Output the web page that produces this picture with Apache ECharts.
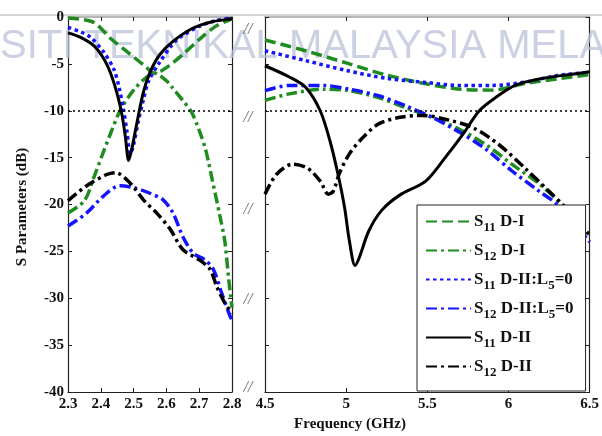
<!DOCTYPE html>
<html>
<head>
<meta charset="utf-8">
<script src="https://cdn.jsdelivr.net/npm/echarts@6/dist/echarts.min.js"></script>
<style>
  html, body { margin: 0; padding: 0; background: #fff; }
  #chart { width: 602px; height: 436px; }
</style>
</head>
<body>
<div id="chart"></div>
<script>
// ---------- 2.3 – 2.8 GHz band ----------
const lowS11D1F  = [2.30, 2.35, 2.38, 2.40, 2.43, 2.48, 2.53, 2.565, 2.60, 2.65, 2.70, 2.75, 2.80];
const lowS11D1   = [-0.1, -0.3, -0.6, -1.2, -2.3, -3.7, -5.1, -6.0, -5.4, -4.0, -2.4, -1.0, -0.2];

const lowS12D1F  = [2.30, 2.35, 2.38, 2.41, 2.43, 2.46, 2.50, 2.54, 2.565, 2.60, 2.615, 2.65, 2.676, 2.70, 2.72, 2.74, 2.763, 2.778, 2.79, 2.80];
const lowS12D1   = [-20.9, -19.6, -17.0, -14.2, -12.4, -9.9, -7.8, -6.4, -6.0, -6.8, -7.4, -8.9, -10.1, -12.1, -14.2, -17.4, -21.2, -23.9, -28.0, -31.0];

const lowS11L5F  = [2.30, 2.34, 2.37, 2.41, 2.44, 2.455, 2.47, 2.48, 2.49, 2.50, 2.515, 2.53, 2.545, 2.58, 2.63, 2.70, 2.75, 2.80];
const lowS11L5   = [-1.1, -1.6, -2.2, -3.8, -5.6, -7.4, -10.0, -12.3, -14.6, -13.6, -11.0, -8.8, -6.9, -4.8, -2.5, -1.0, -0.4, -0.1];

const lowS12L5F  = [2.30, 2.357, 2.408, 2.458, 2.50, 2.55, 2.59, 2.62, 2.651, 2.682, 2.717, 2.743, 2.768, 2.794, 2.80];
const lowS12L5   = [-22.3, -20.9, -19.1, -18.0, -18.2, -18.8, -19.5, -20.9, -23.5, -25.2, -25.9, -26.9, -29.4, -31.9, -32.3];

const lowS11D2F  = [2.30, 2.34, 2.38, 2.41, 2.43, 2.45, 2.465, 2.475, 2.485, 2.495, 2.51, 2.53, 2.55, 2.58, 2.62, 2.68, 2.74, 2.80];
const lowS11D2   = [-1.7, -2.2, -3.1, -4.5, -6.0, -8.2, -10.5, -12.8, -15.3, -14.0, -11.3, -8.0, -5.9, -4.0, -2.6, -1.2, -0.5, -0.2];

const lowS12D2F  = [2.30, 2.357, 2.418, 2.445, 2.489, 2.53, 2.57, 2.611, 2.65, 2.70, 2.733, 2.753, 2.778, 2.80];
const lowS12D2   = [-19.6, -18.0, -16.8, -16.6, -17.7, -19.5, -20.9, -22.6, -24.8, -25.9, -26.9, -28.7, -30.5, -31.6];

// ---------- 4.5 – 6.5 GHz band ----------
const highS11D1F = [4.50, 4.75, 5.00, 5.25, 5.50, 5.70, 5.90, 6.10, 6.30, 6.50];
const highS11D1  = [-2.45, -3.6, -4.9, -6.2, -7.15, -7.7, -7.8, -7.1, -6.6, -6.15];

const highS12D1F = [4.50, 4.65, 4.86, 5.02, 5.20, 5.37, 5.53, 5.70, 5.86, 6.02, 6.19, 6.33, 6.50];
const highS12D1  = [-8.9, -8.2, -7.7, -7.85, -8.6, -9.7, -10.7, -12.0, -13.6, -15.7, -17.8, -20.0, -23.2];

const highS11L5F = [4.50, 4.75, 5.00, 5.25, 5.50, 5.70, 5.90, 6.10, 6.30, 6.50];
const highS11L5  = [-3.6, -4.65, -5.7, -6.55, -7.0, -7.3, -7.3, -6.95, -6.25, -5.9];

const highS12L5F = [4.50, 4.65, 4.86, 5.02, 5.20, 5.37, 5.53, 5.70, 5.86, 6.02, 6.19, 6.30, 6.50];
const highS12L5  = [-7.85, -7.3, -7.3, -7.7, -8.4, -9.5, -10.7, -12.3, -14.1, -16.4, -18.6, -20.0, -24.0];

const highS11D2F = [4.50, 4.65, 4.75, 4.84, 4.90, 4.95, 4.99, 5.02, 5.055, 5.08, 5.14, 5.22, 5.33, 5.49, 5.61, 5.72, 5.82, 5.92, 6.04, 6.19, 6.39, 6.50];
const highS11D2  = [-5.2, -6.4, -7.5, -10.0, -13.2, -16.8, -20.3, -23.9, -26.5, -25.7, -22.8, -20.6, -19.0, -17.5, -15.0, -12.5, -10.0, -8.6, -7.3, -6.6, -6.1, -5.85];

const highS12D2F = [4.50, 4.57, 4.67, 4.76, 4.84, 4.89, 4.92, 4.96, 5.02, 5.10, 5.20, 5.33, 5.47, 5.61, 5.78, 5.94, 6.10, 6.25, 6.35, 6.50];
const highS12D2  = [-18.9, -16.8, -15.7, -16.1, -17.5, -18.9, -18.6, -16.6, -14.6, -12.9, -11.4, -10.7, -10.5, -10.9, -11.8, -13.6, -16.1, -18.6, -20.3, -23.3];

// reference level drawn as a dotted line
const refLevel = -10;

const legendNames = ['S11 D-I', 'S12 D-I', 'S11 D-II:L5=0', 'S12 D-II:L5=0', 'S11 D-II', 'S12 D-II'];
const legendRich = {
  'S11 D-I': '{s|S}{b|11}{s| D-I}',
  'S12 D-I': '{s|S}{b|12}{s| D-I}',
  'S11 D-II:L5=0': '{s|S}{b|11}{s| D-II:L}{b|5}{s|=0}',
  'S12 D-II:L5=0': '{s|S}{b|12}{s| D-II:L}{b|5}{s|=0}',
  'S11 D-II': '{s|S}{b|11}{s| D-II}',
  'S12 D-II': '{s|S}{b|12}{s| D-II}'
};

const GREEN = '#1f8c1f';
const BLUE = '#1414ff';
const BLACK = '#000000';
const SERIF = '"Liberation Serif", "Times New Roman", serif';

const styles = {
  'S11 D-I':       { color: GREEN, width: 3.5, type: [11, 5] },
  'S12 D-I':       { color: GREEN, width: 3.5, type: [11, 4, 3, 4] },
  'S11 D-II:L5=0': { color: BLUE,  width: 3.5, type: [3.5, 3.5] },
  'S12 D-II:L5=0': { color: BLUE,  width: 3.5, type: [11, 4, 3, 4] },
  'S11 D-II':      { color: BLACK, width: 3,   type: 'solid' },
  'S12 D-II':      { color: BLACK, width: 3.5, type: [11, 4, 3, 4] }
};

function pairs(f, v) { return f.map((x, i) => [x, v[i]]); }

function curve(name, f, v, panel, extra) {
  return Object.assign({
    type: 'line',
    name: name,
    xAxisIndex: panel,
    yAxisIndex: panel,
    data: pairs(f, v),
    symbol: 'none',
    smooth: 0.3,
    lineStyle: styles[name],
    itemStyle: { color: styles[name].color },
    emphasis: { disabled: true },
    animation: false
  }, extra || {});
}

const refLine = {
  silent: true,
  symbol: ['none', 'none'],
  label: { show: false },
  lineStyle: { type: [2, 3], color: '#000', width: 1.5 },
  data: [{ yAxis: refLevel }]
};

const series = [
  curve('S11 D-I', lowS11D1F, lowS11D1, 0, { markLine: refLine }),
  curve('S12 D-I', lowS12D1F, lowS12D1, 0),
  curve('S11 D-II:L5=0', lowS11L5F, lowS11L5, 0),
  curve('S12 D-II:L5=0', lowS12L5F, lowS12L5, 0),
  curve('S11 D-II', lowS11D2F, lowS11D2, 0),
  curve('S12 D-II', lowS12D2F, lowS12D2, 0),
  curve('S11 D-I', highS11D1F, highS11D1, 1, { markLine: refLine }),
  curve('S12 D-I', highS12D1F, highS12D1, 1),
  curve('S11 D-II:L5=0', highS11L5F, highS11L5, 1),
  curve('S12 D-II:L5=0', highS12L5F, highS12L5, 1),
  curve('S11 D-II', highS11D2F, highS11D2, 1),
  curve('S12 D-II', highS12D2F, highS12D2, 1)
];

const tickLabel = { fontFamily: SERIF, fontWeight: 'bold', fontSize: 15, color: '#111' };
const frameLine = { lineStyle: { color: '#222', width: 1.2 } };
const frameTick = { inside: true, length: 4, lineStyle: { color: '#222', width: 1 } };

function xAx(grid, min, max, step, top, fmt) {
  return {
    type: 'value', gridIndex: grid, min: min, max: max, interval: step,
    position: top ? 'top' : 'bottom',
    axisLine: { onZero: false, lineStyle: { color: top ? '#b8b8b8' : '#222', width: top ? 2 : 1.2 } },
    axisTick: frameTick,
    axisLabel: top ? { show: false } : Object.assign({ margin: 5, showMinLabel: true, showMaxLabel: true, formatter: fmt }, tickLabel),
    splitLine: { show: false }
  };
}
function yAx(grid, right, labels) {
  return {
    type: 'value', gridIndex: grid, min: -40, max: 0, interval: 5,
    position: right ? 'right' : 'left',
    axisLine: Object.assign({ onZero: false }, frameLine),
    axisTick: frameTick,
    axisLabel: labels ? Object.assign({ margin: 4 }, tickLabel) : { show: false },
    splitLine: { show: false }
  };
}

const breakMarks = [30, 118, 210, 300, 388].map(y => ({
  type: 'text', x: 248, y: y, z: 5,
  style: { text: '//', fill: '#6e6e6e', font: 'italic 16px ' + SERIF, align: 'center', verticalAlign: 'middle' }
}));

const option = {
  backgroundColor: '#fff',
  animation: false,
  grid: [
    { left: 68, top: 17, width: 164, height: 375 },
    { left: 265, top: 17, width: 326, height: 375 }
  ],
  xAxis: [
    xAx(0, 2.3, 2.8, 0.1, false, v => v.toFixed(1)),
    xAx(1, 4.5, 6.5, 0.5, false),
    xAx(0, 2.3, 2.8, 0.1, true),
    xAx(1, 4.5, 6.5, 0.5, true)
  ],
  yAxis: [
    yAx(0, false, true),
    yAx(1, false, false),
    yAx(0, true, false),
    yAx(1, true, false)
  ],
  legend: {
    orient: 'vertical',
    left: 417, top: 205,
    data: legendNames,
    itemWidth: 45, itemHeight: 14, itemGap: 8,
    padding: [8, 12, 12, 8],
    backgroundColor: '#fff',
    borderColor: '#222', borderWidth: 1,
    selectedMode: false,
    itemStyle: { opacity: 0 },
    formatter: n => legendRich[n],
    textStyle: {
      padding: [0, 0, 0, -2],
      rich: {
        s: { fontFamily: SERIF, fontWeight: 'bold', fontSize: 17, color: '#111', lineHeight: 25, verticalAlign: 'middle' },
        b: { fontFamily: SERIF, fontWeight: 'bold', fontSize: 13, color: '#111', lineHeight: 11, verticalAlign: 'bottom' }
      }
    },
    z: 10
  },
  graphic: [
    { type: 'line', z: 0, shape: { x1: 0, y1: 15, x2: 602, y2: 15 }, style: { stroke: '#d4d4d4', lineWidth: 2 } },
    { type: 'text', z: 1, x: 0, y: 47,
      style: { text: 'SITI TEKNIKAL MALAYSIA MELA', fill: 'rgba(186,192,216,0.75)', font: '40px "Liberation Sans", Arial, sans-serif', verticalAlign: 'middle' } },
    { type: 'text', x: 22, y: 207, rotation: Math.PI / 2, z: 5,
      style: { text: 'S Parameters (dB)', fill: '#111', font: 'bold 15px ' + SERIF, align: 'center', verticalAlign: 'middle' } },
    { type: 'text', x: 350, y: 424, z: 5,
      style: { text: 'Frequency (GHz)', fill: '#111', font: 'bold 15px ' + SERIF, align: 'center', verticalAlign: 'middle' } }
  ].concat(breakMarks),
  series: series
};

const chart = echarts.init(document.getElementById('chart'), null, { renderer: 'canvas' });
chart.setOption(option);
</script>
</body>
</html>
